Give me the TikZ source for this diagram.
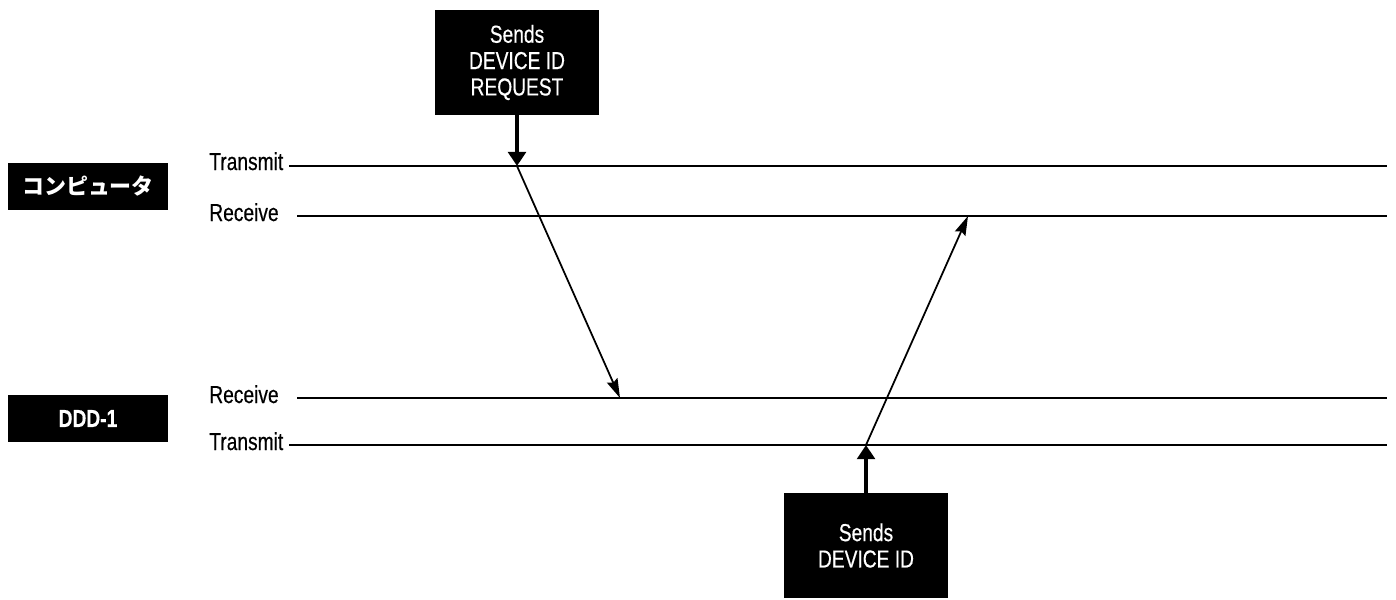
\documentclass[tikz,border=0pt]{standalone}
\usepackage{fontspec}
\setmainfont{Liberation Sans}[FakeStretch=0.78, FakeBold=0.4]
\newfontfamily\jpfont{Noto Sans CJK JP}
\usetikzlibrary{arrows.meta,positioning}

\begin{document}
\begin{tikzpicture}[x=0.02cm, y=-0.02cm,
    sigbox/.style={fill=black, text=white, inner sep=0pt, align=center},
    sendbox/.style={sigbox, minimum width=3.3cm, minimum height=2.1cm, font=\fontsize{14}{15}\selectfont},
    devbox/.style={sigbox, minimum width=3.2cm, minimum height=0.94cm},
    lbl/.style={anchor=base west, inner sep=0pt, font=\fontsize{14}{16}\selectfont},
    sigline/.style={line width=1.5pt},
    msg/.style={line width=1pt, -{Stealth[length=11pt, width=6.5pt, inset=1.5pt]}},
    push/.style={line width=2.2pt, -{Triangle[length=8pt, width=10pt]}}]
    \clip (0,0) rectangle (1396,599);

    % the two stations
    \node [devbox, font=\jpfont\bfseries\fontsize{12.5}{14}\selectfont] (pc) at (88,186.5) {コンピュータ};
    \node [devbox, font=\bfseries\fontsize{14}{16}\selectfont] (ddd) at (88,418.5) {DDD-1};

    % signal lines
    \node [lbl] (pcTx) at (209,170) {Transmit};
    \node [lbl] (pcRx) at (209,221) {Receive};
    \node [lbl] (dddRx) at (209,403) {Receive};
    \node [lbl] (dddTx) at (209,450) {Transmit};
    \draw [sigline] (289,166) coordinate (pcTxA) -- (1387,166) coordinate (pcTxB);
    \draw [sigline] (297,216) coordinate (pcRxA) -- (1387,216) coordinate (pcRxB);
    \draw [sigline] (297,398) coordinate (dddRxA) -- (1387,398) coordinate (dddRxB);
    \draw [sigline] (289,445) coordinate (dddTxA) -- (1387,445) coordinate (dddTxB);

    % messages
    \node [sendbox] (req) at (517,62.5) {Sends\\DEVICE ID\\REQUEST};
    \node [sendbox] (ans) at (866,545.5) {Sends\\DEVICE ID};
    \coordinate (reqOut) at (517,166);
    \coordinate (reqIn) at (620,398);
    \coordinate (ansOut) at (866,445);
    \coordinate (ansIn) at (968,216);

    \draw [push] (req) -- (reqOut);
    \draw [msg] (reqOut) -- (reqIn);
    \draw [push] (ans) -- (ansOut);
    \draw [msg] (ansOut) -- (ansIn);
\end{tikzpicture}
\end{document}
